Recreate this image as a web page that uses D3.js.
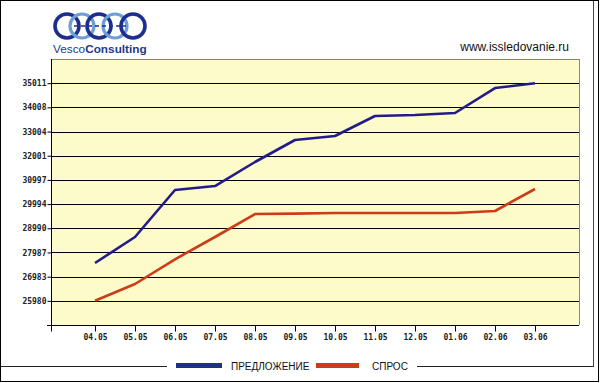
<!DOCTYPE html>
<html>
<head>
<meta charset="utf-8">
<script src="https://cdn.jsdelivr.net/npm/d3@7"></script>
<style>
  html, body { margin: 0; padding: 0; background: #fff; }
  svg { display: block; }
</style>
</head>
<body>
<svg id="chart" width="600" height="383"></svg>
<script>
// ---- data ----
const categories = ["04.05","05.05","06.05","07.05","08.05","09.05","10.05","11.05","12.05","01.06","02.06","03.06"];
const supply = [27550, 28628, 30578, 30744, 31740, 32653, 32819, 33648, 33690, 33773, 34810, 35011];
const demand = [25980, 26678, 27703, 28628, 29582, 29600, 29624, 29624, 29624, 29624, 29707, 30620];
const yTickLabels = ["25980","26983","27987","28990","29994","30997","32001","33004","34008","35011"];
const seriesNames = ["ПРЕДЛОЖЕНИЕ", "СПРОС"];
const seriesColors = ["#231b8c", "#cc3c16"];
const legendColors = ["#1f2f8c", "#cc3c16"];

const yTickValues = yTickLabels.map(Number);
const step = (yTickValues[yTickValues.length - 1] - yTickValues[0]) / (yTickValues.length - 1);

const svg = d3.select("#chart");
const L = 51, R = 579, T = 59, B = 325;

// outer frame
svg.append("rect").attr("x", 0.5).attr("y", 0.5).attr("width", 598).attr("height", 381)
  .attr("fill", "none").attr("stroke", "#000");
// inner frame (right + bottom with legend gap)
svg.append("line").attr("x1", 593.5).attr("x2", 593.5).attr("y1", 1).attr("y2", 366.5)
  .attr("stroke", "#444");
svg.append("line").attr("x1", 1).attr("x2", 167).attr("y1", 366.5).attr("y2", 366.5).attr("stroke", "#222");
svg.append("line").attr("x1", 417).attr("x2", 594).attr("y1", 366.5).attr("y2", 366.5).attr("stroke", "#222");

// logo
const logo = svg.append("g");
const rings = [
  {cx: 67, c: "#1d2e8e", w: 3.6},
  {cx: 82, c: "#6d9fd6", w: 3.2},
  {cx: 99, c: "#1d2e8e", w: 3.6},
  {cx: 115, c: "#6d9fd6", w: 3.2},
  {cx: 133, c: "#1d2e8e", w: 3.6}
];
rings.forEach(r => logo.append("circle").attr("cx", r.cx).attr("cy", 26).attr("r", 12)
  .attr("fill", "none").attr("stroke", r.c).attr("stroke-width", r.w));
logo.append("line").attr("x1", 74).attr("x2", 126).attr("y1", 26).attr("y2", 26)
  .attr("stroke", "#1d2e8e").attr("stroke-width", 1.5).attr("stroke-dasharray", "4,3");
const lt = logo.append("text").attr("x", 53).attr("y", 53)
  .attr("font-family", "Liberation Sans, Arial, sans-serif").attr("font-size", 11.8).attr("fill", "#1d3a8a");
lt.append("tspan").text("Vesco");
lt.append("tspan").attr("font-weight", "bold").text("Consulting");

svg.append("text").attr("x", 569).attr("y", 51).attr("text-anchor", "end")
  .attr("font-family", "Liberation Sans, Arial, sans-serif").attr("font-size", 12).attr("fill", "#111")
  .text("www.issledovanie.ru");

// scales
const x = d3.scalePoint().domain(categories).range([L, R]).padding(1.1);
const y = d3.scaleLinear().domain([yTickValues[0] - step, yTickValues[yTickValues.length - 1] + step]).range([B, T]);

// plot background
svg.append("rect").attr("x", L).attr("y", T).attr("width", R - L).attr("height", B - T).attr("fill", "#fdfbc9");
// top and right border
svg.append("line").attr("x1", L).attr("x2", R + 0.5).attr("y1", T + 0.5).attr("y2", T + 0.5).attr("stroke", "#8a8a60");
svg.append("line").attr("x1", R + 0.5).attr("x2", R + 0.5).attr("y1", T).attr("y2", B).attr("stroke", "#8a8a70");

// grid
svg.append("g").selectAll("line").data(yTickValues).join("line")
  .attr("x1", L).attr("x2", R)
  .attr("y1", d => Math.round(y(d)) + 0.5).attr("y2", d => Math.round(y(d)) + 0.5)
  .attr("stroke", "#000");

// y axis
const yAxis = d3.axisLeft(y).tickValues([yTickValues[0] - step].concat(yTickValues))
  .tickSize(4).tickSizeOuter(0).tickPadding(1)
  .tickFormat(d => { const i = yTickValues.indexOf(d); return i >= 0 ? yTickLabels[i] : ""; });
const gy = svg.append("g").attr("transform", `translate(${L + 0.5},0)`).call(yAxis);
gy.select(".domain").attr("d", `M0,${T}V${B + 5}`).attr("stroke", "#000");
gy.selectAll(".tick line").attr("stroke", "#000");
gy.selectAll("text").attr("font-family", "DejaVu Sans Mono, monospace").attr("font-size", 8)
  .attr("font-weight", "bold").attr("fill", "#222");

// x axis
const xAxis = d3.axisBottom(x).tickSize(6).tickSizeOuter(0).tickPadding(3);
const gx = svg.append("g").attr("transform", `translate(0,${B + 0.5})`).call(xAxis);
gx.select(".domain").attr("d", `M${L - 4},0H${R}`).attr("stroke", "#000");
gx.selectAll(".tick line").attr("stroke", "#000");
gx.selectAll("text").attr("font-family", "DejaVu Sans Mono, monospace").attr("font-size", 8)
  .attr("font-weight", "bold").attr("fill", "#222");
gx.append("line").attr("x1", L + 0.5).attr("x2", L + 0.5).attr("y1", 0).attr("y2", 6).attr("stroke", "#000");

// lines
const line = d3.line().x((d, i) => x(categories[i])).y(d => y(d));
[supply, demand].forEach((s, k) => {
  svg.append("path").datum(s).attr("d", line).attr("fill", "none")
    .attr("stroke", seriesColors[k]).attr("stroke-width", 2.6).attr("stroke-linejoin", "round");
});

// legend
const lg = svg.append("g");
const legendPos = [{sx: 176, sw: 46, tx: 231}, {sx: 316, sw: 43, tx: 372}];
seriesNames.forEach((n, k) => {
  lg.append("rect").attr("x", legendPos[k].sx).attr("y", 363).attr("width", legendPos[k].sw).attr("height", 5)
    .attr("fill", legendColors[k]);
  lg.append("text").attr("x", legendPos[k].tx).attr("y", 369.5)
    .attr("font-family", "Liberation Sans, Arial, sans-serif").attr("font-size", 10).attr("fill", "#111").text(n);
});
</script>
</body>
</html>
